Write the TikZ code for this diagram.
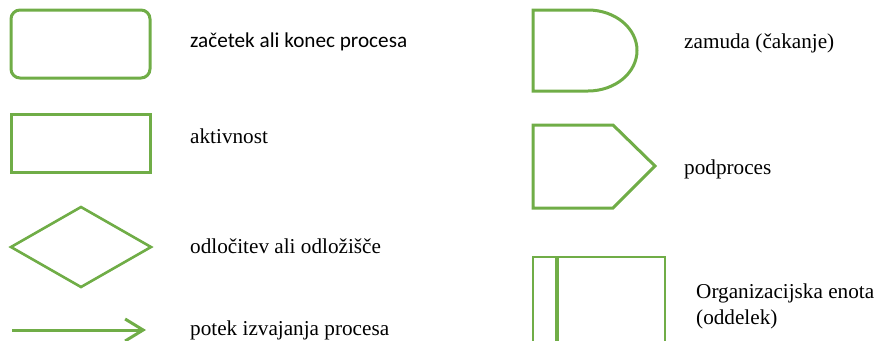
\documentclass[tikz,border=0pt]{standalone}
\usepackage{fontspec}
\setmainfont{Liberation Serif}
\newfontfamily\calfont{Carlito}
\usetikzlibrary{arrows.meta}
\definecolor{symgreen}{HTML}{70AD47}
\begin{document}
\begin{tikzpicture}[x=1pt,y=-1pt,
  sym/.style={draw=symgreen, line width=3pt, line join=miter},
  thin sym/.style={draw=symgreen, line width=2.6pt},
  lbl/.style={anchor=base west, inner sep=0pt, font=\fontsize{21.2}{25}\selectfont}]
\useasboundingbox (0,0) rectangle (877,340);

% left column: terminator, activity, decision, flow
\draw[sym, rounded corners=9pt] (11,10) rectangle (150,78);
\node[lbl, font=\calfont\fontsize{21.2}{25}\selectfont] (start) at (190,47) {začetek ali konec procesa};

\draw[sym] (11,114) rectangle (150,172);
\node[lbl] (activity) at (190,143) {aktivnost};

\draw[thin sym] (11,247) -- (81,207) -- (151,247) -- (81,287) -- cycle;
\node[lbl] (decision) at (190,253) {odločitev ali odložišče};

\coordinate (flowA) at (12,330);
\coordinate (flowB) at (146,330);
\draw[thin sym, line width=3pt, -{Straight Barb[length=18pt,width=22pt,line width=3pt]}] (flowA) -- (flowB);
\node[lbl] (flow) at (190,335) {potek izvajanja procesa};

% right column: delay, subprocess, organisational unit
\draw[sym] (533,10) -- (588,10)
  arc[start angle=90, end angle=-90, x radius=49pt, y radius=40.5pt]
  -- (533,91) -- cycle;
\node[lbl] (delay) at (684,48) {zamuda (čakanje)};

\draw[sym] (533,125) -- (613,125) -- (655,166) -- (613,208) -- (533,208) -- cycle;
\node[lbl] (subproc) at (684,174) {podproces};

\draw[sym, line width=2.7pt] (533,350) -- (533,257) -- (665,257) -- (665,350);
\draw[sym, line width=3.8pt] (557,257) -- (557,350);
\node[lbl] (unit1) at (696,298) {Organizacijska enota};
\node[lbl] (unit2) at (696,324) {(oddelek)};
\end{tikzpicture}
\end{document}
